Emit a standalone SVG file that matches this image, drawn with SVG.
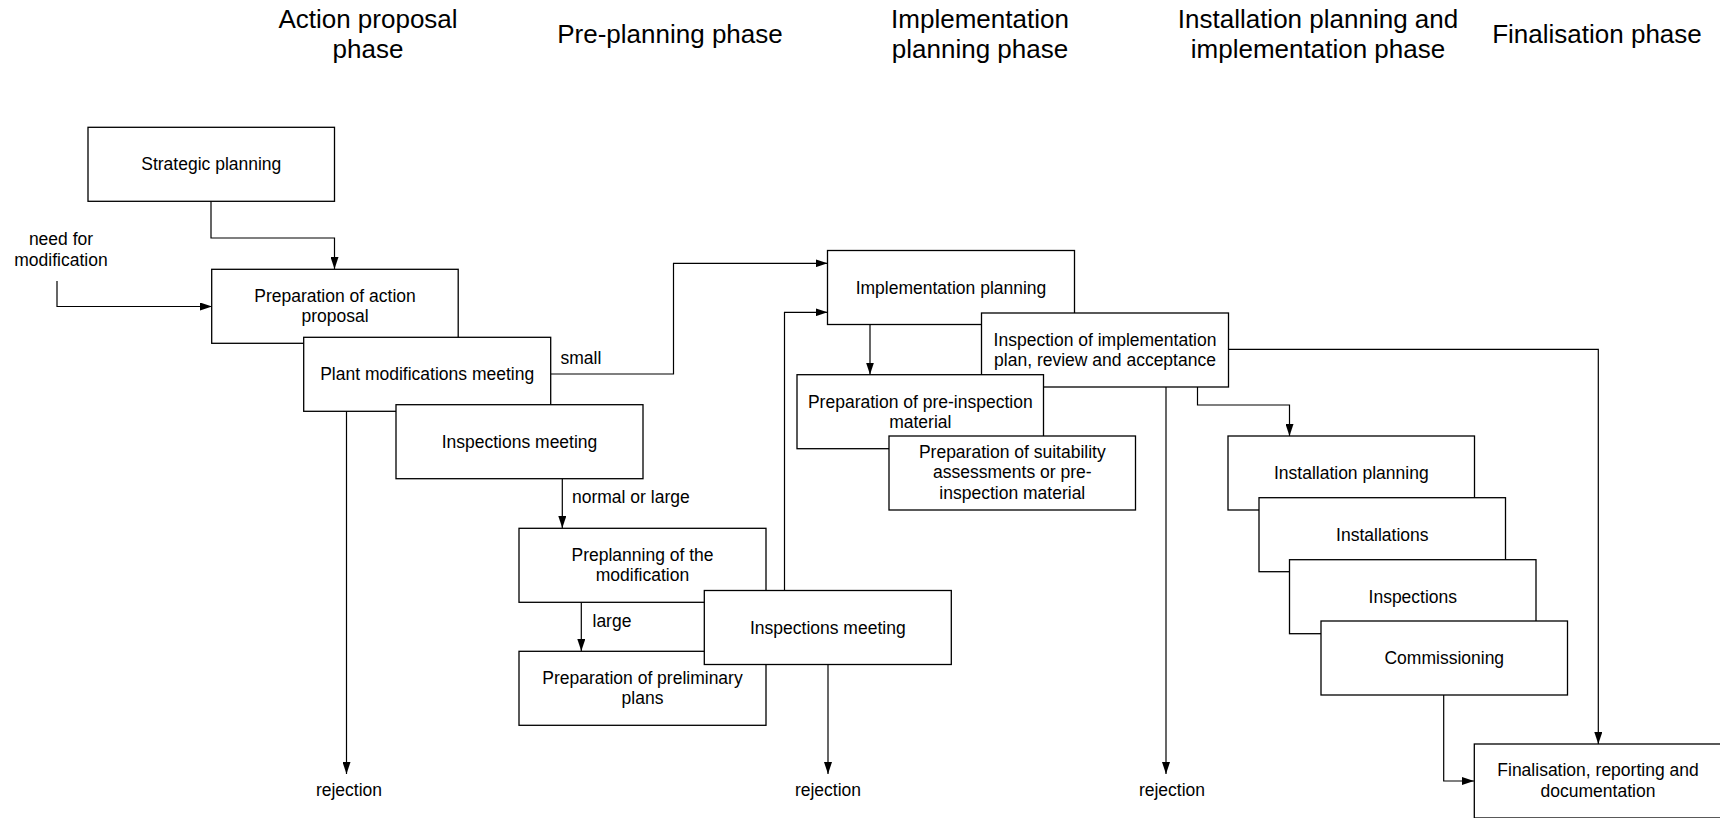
<svg xmlns="http://www.w3.org/2000/svg" width="1720" height="818" viewBox="0 0 1720 818">
<style>
text{font-family:"Liberation Sans",Arial,sans-serif;fill:#000}
.h{font-size:26px;text-anchor:middle}
.t{font-size:17.5px;text-anchor:middle}
.l{font-size:17.5px}
.box{fill:#fff;stroke:#000;stroke-width:1.3}
.c{fill:none;stroke:#000;stroke-width:1.2}
</style>
<defs>
<marker id="arr" markerUnits="userSpaceOnUse" markerWidth="12" markerHeight="8" refX="12" refY="4" orient="auto">
<path d="M0,0 L12,4 L0,8 z" fill="#000"/>
</marker>
</defs>
<rect width="1720" height="818" fill="#fff"/>
<g id="headers">
<text class="h" x="368" y="28">Action proposal</text>
<text class="h" x="368" y="58">phase</text>
<text class="h" x="670" y="43">Pre-planning phase</text>
<text class="h" x="980" y="28">Implementation</text>
<text class="h" x="980" y="58">planning phase</text>
<text class="h" x="1318" y="28">Installation planning and</text>
<text class="h" x="1318" y="58">implementation phase</text>
<text class="h" x="1597" y="43">Finalisation phase</text>
</g>
<g id="connectors">
<path class="c" d="M211,201 V238 H334.5 V269" marker-end="url(#arr)"/>
<path class="c" d="M57,281 V306.5 H212" marker-end="url(#arr)"/>
<path class="c" d="M551,374 H673.5 V263.3 H827.5" marker-end="url(#arr)"/>
<path class="c" d="M784.5,590.5 V312.3 H827.5" marker-end="url(#arr)"/>
<path class="c" d="M346.5,411 V774" marker-end="url(#arr)"/>
<path class="c" d="M562.3,478.5 V528" marker-end="url(#arr)"/>
<path class="c" d="M581.3,602.5 V651" marker-end="url(#arr)"/>
<path class="c" d="M828,664.5 V774" marker-end="url(#arr)"/>
<path class="c" d="M870,324.5 V374.5" marker-end="url(#arr)"/>
<path class="c" d="M1166,387 V774" marker-end="url(#arr)"/>
<path class="c" d="M1197.5,387 V405 H1289.5 V436" marker-end="url(#arr)"/>
<path class="c" d="M1228.5,349.3 H1598.3 V744" marker-end="url(#arr)"/>
<path class="c" d="M1443.7,694.5 V781 H1474" marker-end="url(#arr)"/>
<text class="t" x="61" y="245">need for</text>
<text class="t" x="61" y="266">modification</text>
<text class="l" x="560.5" y="364">small</text>
<text class="l" x="572" y="503">normal or large</text>
<text class="l" x="592.5" y="626.5">large</text>
<text class="t" x="349" y="796">rejection</text>
<text class="t" x="828" y="796">rejection</text>
<text class="t" x="1172" y="796">rejection</text>
</g>
<g id="n-strategic"><rect class="box" x="88" y="127.3" width="246.5" height="74"/><text class="t" x="211.3" y="170.3">Strategic planning</text></g>
<g id="n-prep-action"><rect class="box" x="211.7" y="269.3" width="246.5" height="74"/><text class="t" x="335" y="302">Preparation of action</text><text class="t" x="335" y="322">proposal</text></g>
<g id="n-plant-meeting"><rect class="box" x="303.7" y="337.3" width="247" height="74"/><text class="t" x="427.2" y="380.3">Plant modifications meeting</text></g>
<g id="n-insp-meeting1"><rect class="box" x="396" y="404.7" width="247" height="74"/><text class="t" x="519.5" y="447.7">Inspections meeting</text></g>
<g id="n-preplanning"><rect class="box" x="519" y="528.3" width="247" height="74"/><text class="t" x="642.5" y="561">Preplanning of the</text><text class="t" x="642.5" y="581">modification</text></g>
<g id="n-prelim-plans"><rect class="box" x="519" y="651.3" width="247" height="74"/><text class="t" x="642.5" y="684">Preparation of preliminary</text><text class="t" x="642.5" y="704">plans</text></g>
<g id="n-insp-meeting2"><rect class="box" x="704.3" y="590.5" width="247" height="74"/><text class="t" x="827.8" y="633.5">Inspections meeting</text></g>
<g id="n-impl-planning"><rect class="box" x="827.5" y="250.5" width="247" height="74"/><text class="t" x="951" y="293.5">Implementation planning</text></g>
<g id="n-insp-impl"><rect class="box" x="981.5" y="313" width="247" height="74"/><text class="t" x="1105" y="346">Inspection of implementation</text><text class="t" x="1105" y="366">plan, review and acceptance</text></g>
<g id="n-pre-insp"><rect class="box" x="797" y="374.7" width="246.5" height="74"/><text class="t" x="920.3" y="407.5">Preparation of pre-inspection</text><text class="t" x="920.3" y="427.5">material</text></g>
<g id="n-suitability"><rect class="box" x="889" y="436" width="246.5" height="74"/><text class="t" x="1012.3" y="457.5">Preparation of suitability</text><text class="t" x="1012.3" y="478">assessments or pre-</text><text class="t" x="1012.3" y="498.5">inspection material</text></g>
<g id="n-inst-planning"><rect class="box" x="1228" y="436" width="246.5" height="74"/><text class="t" x="1351.3" y="479">Installation planning</text></g>
<g id="n-installations"><rect class="box" x="1259" y="497.7" width="246.5" height="74"/><text class="t" x="1382.3" y="540.7">Installations</text></g>
<g id="n-inspections"><rect class="box" x="1289.5" y="559.7" width="246.5" height="74"/><text class="t" x="1412.8" y="602.7">Inspections</text></g>
<g id="n-commissioning"><rect class="box" x="1321" y="621" width="246.5" height="74"/><text class="t" x="1444.3" y="664">Commissioning</text></g>
<g id="n-finalisation"><rect class="box" x="1474.3" y="744" width="247" height="74"/><text class="t" x="1598" y="776">Finalisation, reporting and</text><text class="t" x="1598" y="796.5">documentation</text></g>
</svg>
